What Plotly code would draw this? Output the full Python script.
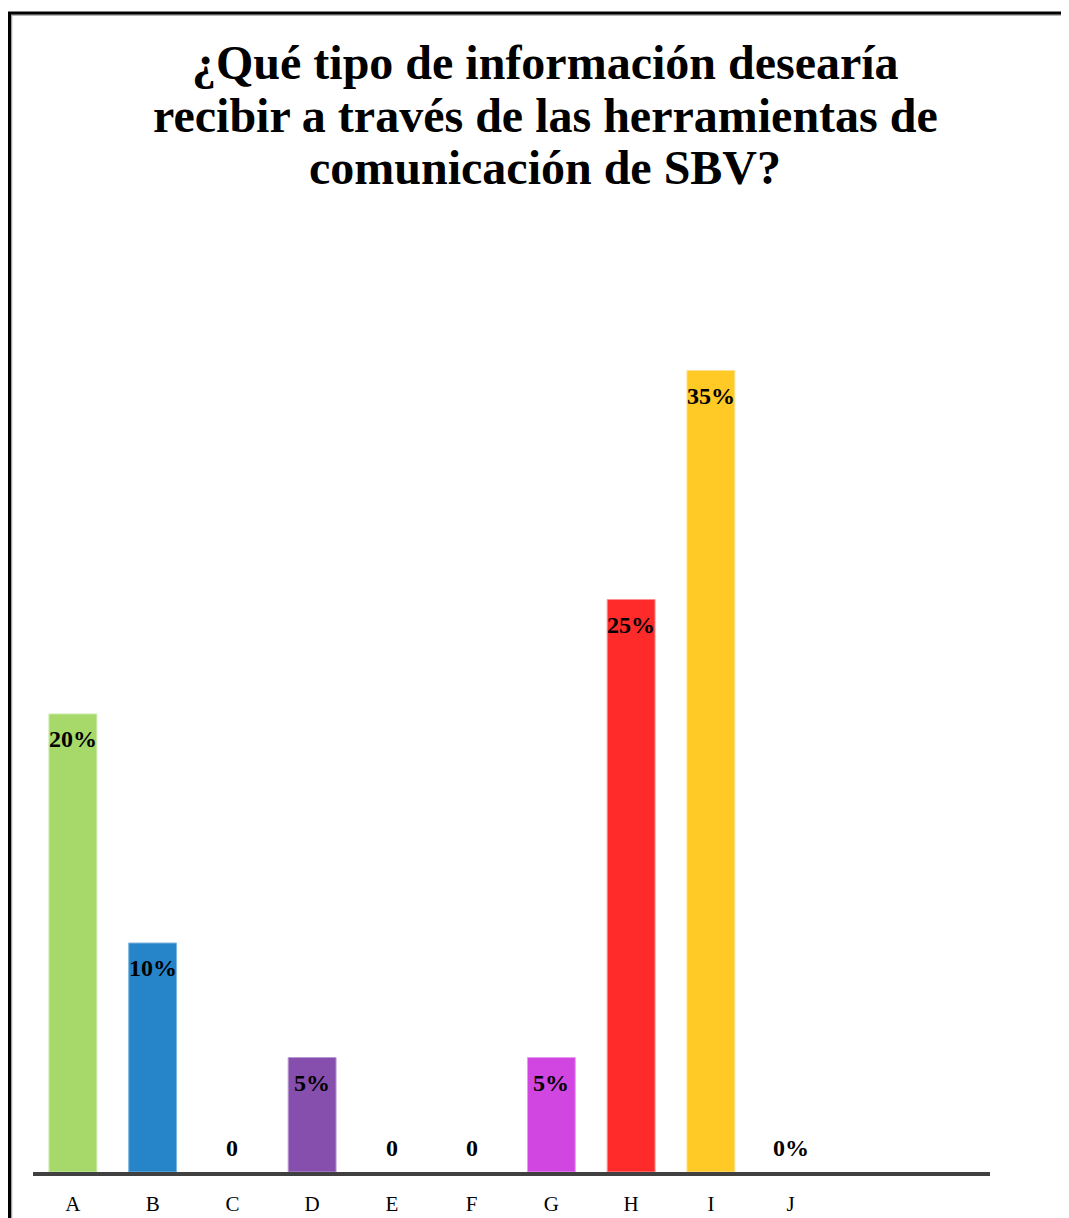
import plotly.graph_objects as go

categories = ["A", "B", "C", "D", "E", "F", "G", "H", "I", "J"]
values = [20, 10, 0, 5, 0, 0, 5, 25, 35, 0]
labels = ["20%", "10%", "0", "5%", "0", "0", "5%", "25%", "35%", "0%"]
colors = ["#a6d96a", "#2685c9", "#ffffff", "#874fad", "#ffffff", "#ffffff",
          "#d146e0", "#ff2a2a", "#ffc926", "#ffffff"]
edge_colors = ["#c9e9a6", "#7db6e0", "#ffffff", "#b898cf", "#ffffff", "#ffffff",
               "#e79bf0", "#ff8f8f", "#ffe08f", "#ffffff"]
title_lines = ["¿Qué tipo de información desearía",
               "recibir a través de las herramientas de",
               "comunicación de SBV?"]

SERIF = "Liberation Serif, Times New Roman, serif"

# the page body has an 8px margin, so the figure is 8px smaller than the window
W, H = 1069 - 8, 1218 - 8
PLOT_L, PLOT_R, PLOT_T, PLOT_B = 33, 990, 256, 1172  # in window pixels
PW, PH = PLOT_R - PLOT_L, PLOT_B - PLOT_T


def px_x(x):
    return (x - PLOT_L) / PW


def px_y(y):
    return (PLOT_B - y) / PH


fig = go.Figure(
    go.Bar(
        x=list(range(len(categories))),
        y=values,
        width=0.6,
        marker=dict(color=colors, line=dict(color=edge_colors, width=1)),
        hoverinfo="skip",
    )
)

# data labels: just under bar top, or just above the baseline for empty bars
for i, (v, t) in enumerate(zip(values, labels)):
    fig.add_annotation(
        x=i, y=v, text=t, showarrow=False,
        yanchor="top" if v > 0 else "bottom",
        yshift=-10 if v > 0 else 9,
        font=dict(family=SERIF, size=24, color="#000000", weight="bold"),
    )

# title, one annotation per line for tighter line spacing
for k, line in enumerate(title_lines):
    fig.add_annotation(
        xref="paper", yref="paper", x=px_x(545), y=px_y(63 + 52 * k),
        xanchor="center", yanchor="middle", showarrow=False,
        text=line,
        font=dict(family=SERIF, size=48, color="#000000", weight="bold"),
    )

fig.update_layout(
    width=W,
    height=H,
    margin=dict(l=PLOT_L - 8, r=W - (PLOT_R - 8), t=PLOT_T - 8, b=H - (PLOT_B - 8),
                autoexpand=False),
    paper_bgcolor="#ffffff",
    plot_bgcolor="#ffffff",
    showlegend=False,
    xaxis=dict(
        range=[-0.5, 11.5],
        tickvals=list(range(len(categories))),
        ticktext=categories,
        showgrid=False,
        zeroline=False,
        showline=True,
        linewidth=4,
        linecolor="#404040",
        ticks="outside",
        ticklen=10,
        tickcolor="rgba(0,0,0,0)",
        tickfont=dict(family=SERIF, size=21, color="#000000"),
        automargin=False,
    ),
    yaxis=dict(
        range=[0, 40],
        visible=False,
        showgrid=False,
        zeroline=False,
        automargin=False,
    ),
    shapes=[
        dict(type="rect", xref="paper", yref="paper",
             x0=px_x(11.5), x1=1.3, y0=-0.2, y1=px_y(15),
             line=dict(color="#a0a0a0", width=1.5), layer="above"),
        dict(type="rect", xref="paper", yref="paper",
             x0=px_x(9.5), x1=1.3, y0=-0.2, y1=px_y(13),
             line=dict(color="#000000", width=3), layer="above"),
    ],
)

fig.write_html("out.html")
